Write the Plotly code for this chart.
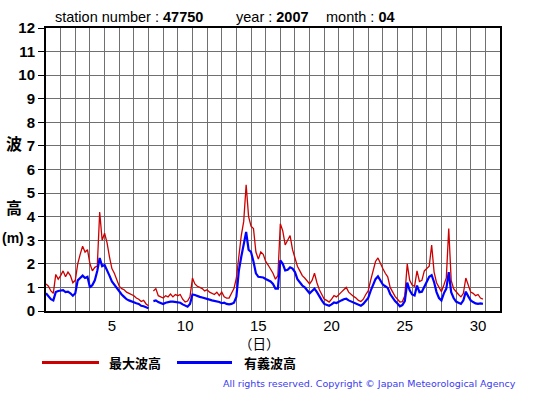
import plotly.graph_objects as go

# Observation interval (hours) – values below are every 4 hours from 1 April 00:00
step_hours = 4

# 最大波高 (maximum wave height, m)
max_wave = [
    1.15, 1.05, 0.85, 0.75, 1.55, 1.35,
    1.5, 1.7, 1.45, 1.65, 1.5, 1.2,
    1.3, 2.0, 2.4, 2.75, 2.5, 2.6,
    2.0, 1.7, 1.85, 1.9, 4.2, 3.0,
    3.3, 2.9, 2.3, 1.8, 1.6, 1.3,
    1.05, 0.95, 0.9, 0.8, 0.75, 0.7,
    0.65, 0.55, 0.5, 0.4, 0.45, 0.3,
    0.22, None, 0.85, 0.95, 0.65, 0.6,
    0.55, 0.65, 0.6, 0.72, 0.6, 0.7,
    0.65, 0.7, 0.5, 0.38, 0.42, 0.6,
    1.4, 1.15, 1.05, 1.0, 0.95, 0.85,
    0.9, 0.8, 0.75, 0.7, 0.8, 0.65,
    0.8, 0.6, 0.55, 0.55, 0.75, 0.95,
    1.4, 2.3, 3.2, 3.8, 5.35, 4.0,
    3.6, 3.5, 2.5, 2.2, 2.5, 2.4,
    2.1, 1.95, 1.8, 1.6, 1.35, 1.5,
    3.7, 3.4, 2.8, 3.0, 3.2, 2.6,
    2.2, 1.9, 1.7, 1.5, 1.4, 1.25,
    1.15, 1.3, 1.6, 1.2, 0.9, 0.7,
    0.5, 0.45, 0.38, 0.5, 0.65, 0.6,
    0.72, 0.8, 0.9, 1.0, 0.8, 0.7,
    0.62, 0.55, 0.45, 0.4, 0.5, 0.7,
    0.85, 1.3, 1.75, 2.1, 2.25, 2.0,
    1.8, 1.6, 1.45, 1.0, 0.8, 0.62,
    0.5, 0.38, 0.4, 0.65, 2.0, 1.3,
    1.1, 1.05, 1.7, 1.25, 1.3, 1.7,
    1.8, 1.9, 2.8, 1.65, 1.2, 1.0,
    0.82, 1.1, 1.4, 3.5, 1.3, 0.95,
    0.8, 0.7, 0.6, 0.75, 1.4, 1.05,
    0.8, 0.75, 0.65, 0.7, 0.55, 0.5,
]

# 有義波高 (significant wave height, m)
sig_wave = [
    0.75, 0.6, 0.5, 0.45, 0.8, 0.85,
    0.85, 0.88, 0.8, 0.82, 0.75, 0.65,
    0.75, 1.3, 1.4, 1.5, 1.4, 1.45,
    1.0, 1.1, 1.3, 1.7, 2.25, 1.9,
    1.95, 1.75, 1.5, 1.25, 1.1, 0.95,
    0.8, 0.7, 0.6, 0.5, 0.45, 0.4,
    0.36, 0.33, 0.3, 0.22, 0.2, 0.15,
    0.12, None, 0.42, 0.45, 0.38, 0.33,
    0.3, 0.35, 0.38, 0.4, 0.4, 0.38,
    0.36, 0.35, 0.28, 0.22, 0.18, 0.3,
    0.7, 0.68, 0.63, 0.6, 0.57, 0.53,
    0.5, 0.48, 0.45, 0.43, 0.4, 0.38,
    0.33, 0.35, 0.3, 0.28, 0.3, 0.35,
    0.6, 1.7, 2.3, 2.8, 3.35, 2.6,
    2.5, 2.1, 1.6, 1.45, 1.45, 1.42,
    1.36, 1.3, 1.25, 1.15, 0.95, 0.95,
    2.15, 2.0, 1.72, 1.75, 1.85, 1.8,
    1.65, 1.35, 1.2, 1.08, 1.0, 0.85,
    0.75, 0.85, 0.95, 0.8, 0.6, 0.45,
    0.3, 0.25, 0.22, 0.28, 0.36, 0.34,
    0.38, 0.45, 0.5, 0.52, 0.45, 0.4,
    0.36, 0.3, 0.25, 0.22, 0.3, 0.42,
    0.55, 0.85, 1.1, 1.35, 1.47, 1.3,
    1.12, 1.05, 0.98, 0.72, 0.55, 0.42,
    0.32, 0.2, 0.25, 0.42, 1.2, 0.88,
    0.7, 0.66, 1.08, 0.8, 0.82, 1.05,
    1.25, 1.45, 1.52, 1.22, 0.8, 0.55,
    0.45, 0.75, 0.95, 1.65, 0.8, 0.55,
    0.4, 0.35, 0.3, 0.45, 0.82, 0.62,
    0.45, 0.38, 0.32, 0.3, 0.32, 0.3,
]

day_labels = ["5", "10", "15", "20", "25", "30"]
day_numbers = [5, 10, 15, 20, 25, 30]
y_ticks = list(range(0, 13))

# elapsed days since 1 April 00:00
t = [i * step_hours / 24 for i in range(len(max_wave))]
# label for day N is centered on that day
label_pos = [d - 0.5 for d in day_numbers]

fig = go.Figure()
fig.add_trace(go.Scatter(x=t, y=max_wave, mode="lines", name="最大波高",
                         line=dict(color="#cc0000", width=1.3), connectgaps=False,
                         hoverinfo="skip"))
fig.add_trace(go.Scatter(x=t, y=sig_wave, mode="lines", name="有義波高",
                         line=dict(color="#0000ff", width=2.2), connectgaps=False,
                         hoverinfo="skip"))

W, H = 555, 395
# plot box in page pixels: left 46, right 500, top 28, bottom 311.5
L, T = 46, 28
R = W - 500
B = H - 311.5
pw, ph = W - L - R, H - T - B


def px_x(x):
    return (x - L) / pw


def px_y(y):
    return (H - B - y) / ph


fig.update_layout(
    width=W, height=H,
    margin=dict(l=L, r=R, t=T, b=B, pad=0),
    paper_bgcolor="white", plot_bgcolor="white",
    showlegend=False,
    font=dict(family="Liberation Sans, Arial, sans-serif", color="black"),
    xaxis=dict(
        range=[0, 31], tickmode="array", tickvals=label_pos, ticktext=day_labels,
        showgrid=False, ticks="", zeroline=False,
        tickfont=dict(size=15, family="Liberation Sans"),
        showline=True, linecolor="black", linewidth=2, mirror=True,
        minor=dict(tickmode="linear", tick0=0, dtick=1, showgrid=True,
                   gridcolor="#707070", gridwidth=1, ticks=""),
    ),
    yaxis=dict(
        range=[0, 12], tickmode="array", tickvals=y_ticks,
        showgrid=True, gridcolor="#707070", gridwidth=1, zeroline=False,
        ticks="outside", ticklen=6, tickcolor="black", tickwidth=1,
        tickfont=dict(size=15, family="Liberation Sans", weight="bold"),
        showline=True, linecolor="black", linewidth=2, mirror=True,
    ),
)

ann = []
title_font = dict(family="Liberation Sans", size=14.5, color="black")
for x0, txt in [(53, "station number : <b>47750</b>"),
                (234, "year : <b>2007</b>"),
                (324, "month : <b>04</b>")]:
    ann.append(dict(x=px_x(x0), y=px_y(17), xref="paper", yref="paper",
                    text=txt, showarrow=False, xanchor="left", yanchor="middle",
                    font=title_font))

cjk = "Noto Sans CJK JP"
for yy, txt, sz in [(143, "<b>波</b>", 16), (207, "<b>高</b>", 16)]:
    ann.append(dict(x=px_x(14), y=px_y(yy), xref="paper", yref="paper", text=txt,
                    showarrow=False, xanchor="center", yanchor="middle",
                    font=dict(family=cjk, size=sz, color="black")))
ann.append(dict(x=px_x(13), y=px_y(238), xref="paper", yref="paper", text="<b>(m)</b>",
                showarrow=False, xanchor="center", yanchor="middle",
                font=dict(family="Liberation Sans", size=14, color="black")))

ann.append(dict(x=px_x(259), y=px_y(332), xref="paper", yref="paper", text="（日）",
                showarrow=False, xanchor="center", yanchor="top",
                font=dict(family=cjk, size=13.5, color="black")))

# legend
shapes = []
for x0, x1, col, lab, tx in [(42, 99, "#cc0000", "最大波高", 107),
                             (177, 232, "#0000ff", "有義波高", 242)]:
    shapes.append(dict(type="line", xref="paper", yref="paper",
                       x0=px_x(x0), x1=px_x(x1), y0=px_y(363), y1=px_y(363),
                       line=dict(color=col, width=3)))
    ann.append(dict(x=px_x(tx), y=px_y(363), xref="paper", yref="paper",
                    text="<b>" + lab + "</b>", showarrow=False, xanchor="left",
                    yanchor="middle", font=dict(family=cjk, size=13, color="black")))

ann.append(dict(x=px_x(518), y=px_y(384), xref="paper", yref="paper",
                text="All rights reserved. Copyright © Japan Meteorological Agency",
                showarrow=False, xanchor="right", yanchor="middle",
                font=dict(family="DejaVu Sans", size=9.5, color="#3a3aee")))

fig.update_layout(annotations=ann, shapes=shapes)
fig.write_html("out.html", config={"displayModeBar": False},
               post_script="document.body.style.margin='0';document.body.style.overflow='hidden';")
